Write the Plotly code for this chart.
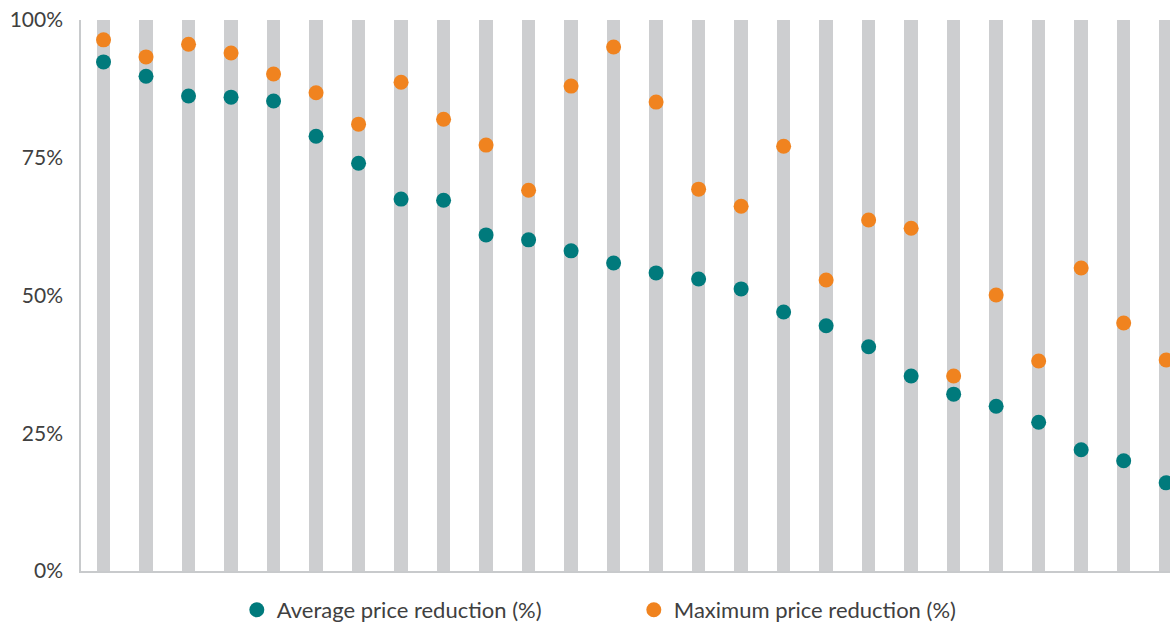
import plotly.graph_objects as go

categories = list(range(26))
bar_values = [100] * 26
average_reduction = [92.4, 89.8, 86.2, 86.0, 85.3, 78.9, 74.0, 67.5, 67.3, 61.0, 60.1, 58.1, 55.9,
                     54.1, 53.0, 51.2, 47.0, 44.5, 40.7, 35.4, 32.1, 29.9, 27.0, 22.0, 20.0, 16.0]
maximum_reduction = [96.4, 93.3, 95.6, 94.0, 90.2, 86.8, 81.1, 88.7, 82.0, 77.3, 69.1, 88.0, 95.1,
                     85.1, 69.3, 66.2, 77.1, 52.8, 63.7, 62.2, 35.4, 50.1, 38.1, 55.0, 45.0, 38.3]
y_ticks = [0, 25, 50, 75, 100]
y_tick_labels = ["0%", "25%", "50%", "75%", "100%"]

TEAL = "#007A7C"
ORANGE = "#F0831F"
GRAY = "#CDCED0"
TEXT = "#404040"

fig = go.Figure()
fig.add_trace(go.Bar(x=categories, y=bar_values, marker=dict(color=GRAY, line=dict(width=0)),
                     width=0.32, showlegend=False, hoverinfo="skip"))
fig.add_trace(go.Scatter(x=categories, y=average_reduction, mode="markers",
                         name="Average price reduction (%)",
                         marker=dict(color=TEAL, size=15, line=dict(width=0))))
fig.add_trace(go.Scatter(x=categories, y=maximum_reduction, mode="markers",
                         name="Maximum price reduction (%)",
                         marker=dict(color=ORANGE, size=15, line=dict(width=0))))

fig.update_layout(
    width=1170, height=623,
    margin=dict(l=81, r=0, t=20, b=52, autoexpand=False),
    paper_bgcolor="white", plot_bgcolor="white",
    font=dict(family="Lato, sans-serif", size=21, color=TEXT),
    legend=dict(orientation="h", xref="container", yref="container",
                x=0.2024, xanchor="left", y=0.021, yanchor="middle",
                font=dict(size=22, color=TEXT), entrywidth=352, itemwidth=30),
    xaxis=dict(range=[-0.53, 25.09], showticklabels=False, ticks="", showgrid=False,
               zeroline=False, showline=True, linecolor="#C8CACC", linewidth=1.5,
               automargin=False),
    yaxis=dict(range=[0, 100], tickvals=y_ticks, ticktext=y_tick_labels, showgrid=False,
               zeroline=False, showline=True, linecolor="#C8CACC", linewidth=1.5,
               ticks="", ticklen=0, ticklabelstandoff=12, automargin=False),
    bargap=0,
)
fig.write_html("out.html", config={"displayModeBar": False},
               post_script="document.body.style.margin='0';")
